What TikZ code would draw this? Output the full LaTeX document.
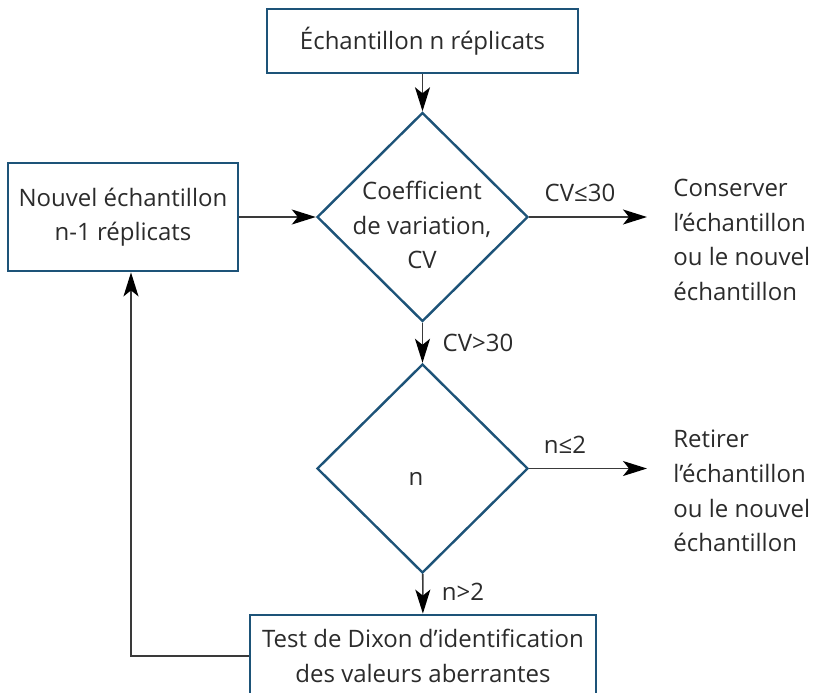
\documentclass[tikz,border=0pt]{standalone}
\usepackage{fontspec}
\setmainfont{Open Sans}
\usetikzlibrary{positioning,shapes.geometric,arrows.meta}
\definecolor{boxblue}{HTML}{1D5378}
\definecolor{linegray}{HTML}{3A3A3A}
\definecolor{txtgray}{HTML}{2B2B2B}
\tikzset{>={Stealth[length=12pt,width=7.5pt,inset=3pt,color=black]}}

\begin{document}
\begin{tikzpicture}[x=0.5pt,y=-0.5pt,
  every node/.style={font=\fontsize{12}{17.3}\selectfont,text=txtgray},
  box/.style={draw=boxblue,line width=1.4pt,align=center,inner sep=0pt},
  choice/.style={diamond,draw=boxblue,line width=1.2pt,inner sep=0pt,
    minimum width=105.5pt,minimum height=104.5pt},
  link/.style={draw=linegray,line width=0.8pt,->}]
\useasboundingbox (0,0) rectangle (815,692);
% boxes
\node[box,minimum width=155.5pt,minimum height=32pt] (sample) at (422.5,41) {Échantillon n réplicats};
\node[box,minimum width=115pt,minimum height=54pt] (newsample) at (123,217) {Nouvel échantillon\\n-1 réplicats};
\node[box,minimum width=173pt,minimum height=41pt] (dixon) at (423,656) {Test de Dixon d’identification\\des valeurs aberrantes};
% decisions
\node[choice] (cv) at (422.5,217) {};
\node[align=center,inner sep=0pt] (cvtext) at (422,225) {Coefficient\\de variation,\\CV};
\node[choice] (nrep) at (422.5,468.5) {};
\node[inner sep=0pt] (ntext) at (416,479) {n};
% outcomes
\coordinate (keepend) at (647,217);
\coordinate (dropend) at (647,468.5);
\node[align=left,anchor=west,inner sep=0pt] (keep) at (673,240) {Conserver\\l’échantillon\\ou le nouvel\\échantillon};
\node[align=left,anchor=west,inner sep=0pt] (drop) at (673,491) {Retirer\\l’échantillon\\ou le nouvel\\échantillon};
% connectors
\draw[link] (sample) -- (cv);
\draw[link] (newsample) -- (cv);
\draw[link] (cv) -- (nrep);
\draw[link] (nrep) -- (dixon);
\draw[link] (cv.east) -- (keepend);
\draw[link] (nrep.east) -- (dropend);
\draw[link] (dixon.west) -| ([xshift=4pt]newsample.south);
% labels
\node (cvlow) at (580,193) {CV≤30};
\node (cvhigh) at (478,343) {CV>30};
\node (nlow) at (565,445) {n≤2};
\node (nhigh) at (463,592) {n>2};
\end{tikzpicture}
\end{document}
